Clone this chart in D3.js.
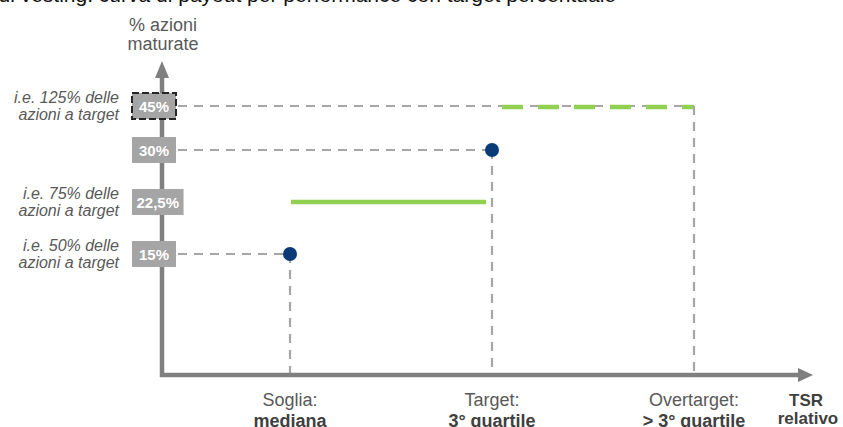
<!DOCTYPE html>
<html>
<head>
<meta charset="utf-8">
<script src="https://cdn.jsdelivr.net/npm/d3@7"></script>
<style>
  html, body { margin: 0; padding: 0; background: #ffffff; }
  svg { display: block; }
</style>
</head>
<body>
<svg id="chart" width="843" height="427"></svg>
<script>
// Performance levels on the relative TSR axis
const categories = ["Soglia:", "Target:", "Overtarget:"];
const categoryDetails = ["mediana", "3° quartile", "> 3° quartile"];

// Vested share levels (% of shares) shown on the vertical axis
const tickValues = [15, 22.5, 30, 45];
const tickLabels = ["15%", "22,5%", "30%", "45%"];
const tickNotes = [
  ["i.e. 50% delle", "azioni a target"],
  ["i.e. 75% delle", "azioni a target"],
  null,
  ["i.e. 125% delle", "azioni a target"]
];

// Payout at each performance level
const pointValues = [15, 30, 45];
// Intermediate payout between threshold and target
const midValue = 22.5;

const svg = d3.select("#chart");
const gray = "#7f7f7f";
const guideGray = "#a6a6a6";
const green = "#92d050";
const navy = "#0a3a78";
const textGray = "#595959";

const originX = 162, originY = 375;

const x = d3.scaleLinear().domain([0, 2]).range([290, 694]);
const y = d3.scaleLinear().domain([0, 15, 30, 45]).range([originY, 254, 150, 106]);

// Title line (runs off the top of the page)
const title = svg.append("text")
  .attr("y", 2)
  .attr("font-family", "Liberation Sans, Arial, sans-serif")
  .attr("font-size", 21)
  .attr("fill", "#111")
  .text("Meccanismo di vesting: curva di payout per performance con target percentuale");
const tl = title.node().getComputedTextLength();
title.attr("x", 616 - tl);

// Axis title
const yTitle = svg.append("text")
  .attr("text-anchor", "middle")
  .attr("font-family", "Liberation Sans, Arial, sans-serif")
  .attr("font-size", 18)
  .attr("fill", textGray);
yTitle.append("tspan").attr("x", 163).attr("y", 31).text("% azioni");
yTitle.append("tspan").attr("x", 163).attr("y", 50).text("maturate");

// Guides from the axis labels to the payout levels
const guides = svg.append("g")
  .attr("stroke", guideGray)
  .attr("stroke-width", 2.2)
  .attr("stroke-dasharray", "9,7")
  .attr("fill", "none");
pointValues.forEach((v, i) => {
  guides.append("line")
    .attr("x1", 178).attr("x2", x(i))
    .attr("y1", y(v)).attr("y2", y(v));
  guides.append("line")
    .attr("x1", x(i)).attr("x2", x(i))
    .attr("y1", y(v)).attr("y2", originY - 2);
});

// Axes with arrow heads
svg.append("line")
  .attr("x1", originX).attr("x2", originX)
  .attr("y1", originY + 2).attr("y2", 76)
  .attr("stroke", gray).attr("stroke-width", 4.5);
svg.append("path")
  .attr("d", `M${originX - 7},78 L${originX},61 L${originX + 7},78 Z`)
  .attr("fill", gray);
svg.append("line")
  .attr("x1", originX - 2).attr("x2", 800)
  .attr("y1", originY).attr("y2", originY)
  .attr("stroke", gray).attr("stroke-width", 4.5);
svg.append("path")
  .attr("d", `M798,${originY - 7} L813,${originY} L798,${originY + 7} Z`)
  .attr("fill", gray);

// Payout lines
svg.append("line")
  .attr("x1", x(0) + 1).attr("x2", x(1) - 6)
  .attr("y1", y(midValue)).attr("y2", y(midValue))
  .attr("stroke", green).attr("stroke-width", 4.5);
svg.append("line")
  .attr("x1", x(1) + 10).attr("x2", x(2) - 1)
  .attr("y1", y(pointValues[2]) + 1).attr("y2", y(pointValues[2]) + 1)
  .attr("stroke", green).attr("stroke-width", 4.5)
  .attr("stroke-dasharray", "21,15");

// Payout points
svg.selectAll("circle.pt")
  .data(pointValues.slice(0, 2))
  .join("circle")
  .attr("class", "pt")
  .attr("cx", (d, i) => x(i))
  .attr("cy", d => y(d))
  .attr("r", 7)
  .attr("fill", navy);

// Value boxes on the vertical axis
const boxes = svg.append("g");
tickValues.forEach((v, i) => {
  const g = boxes.append("g");
  const t = g.append("text")
    .attr("font-family", "Liberation Sans, Arial, sans-serif")
    .attr("font-size", 15)
    .attr("font-weight", "bold")
    .attr("fill", "#ffffff")
    .attr("text-anchor", "middle")
    .text(tickLabels[i]);
  const w = Math.max(44, t.node().getComputedTextLength() + 9);
  const rect = g.insert("rect", "text")
    .attr("x", 132).attr("y", y(v) - 13)
    .attr("width", w).attr("height", 26)
    .attr("fill", "#a5a5a5");
  if (v === 45) {
    rect.attr("stroke", "#262626").attr("stroke-width", 2)
      .attr("stroke-dasharray", "7,3");
  }
  t.attr("x", 132 + w / 2).attr("y", y(v) + 5.5);

  if (tickNotes[i]) {
    const note = svg.append("text")
      .attr("text-anchor", "end")
      .attr("font-family", "Liberation Sans, Arial, sans-serif")
      .attr("font-style", "italic")
      .attr("font-size", 16)
      .attr("fill", textGray);
    note.append("tspan").attr("x", 119).attr("y", y(v) - 3).text(tickNotes[i][0]);
    note.append("tspan").attr("x", 119).attr("y", y(v) + 14).text(tickNotes[i][1]);
  }
});

// Category labels under the horizontal axis
categories.forEach((c, i) => {
  const t = svg.append("text")
    .attr("text-anchor", "middle")
    .attr("font-family", "Liberation Sans, Arial, sans-serif")
    .attr("font-size", 18);
  t.append("tspan").attr("x", x(i)).attr("y", 406).attr("fill", textGray).text(c);
  t.append("tspan").attr("x", x(i)).attr("y", 427).attr("fill", "#404040")
    .attr("font-weight", "bold").text(categoryDetails[i]);
});

// Horizontal axis title
const xTitle = svg.append("text")
  .attr("text-anchor", "middle")
  .attr("font-family", "Liberation Sans, Arial, sans-serif")
  .attr("font-size", 17)
  .attr("font-weight", "bold")
  .attr("fill", "#404040");
xTitle.append("tspan").attr("x", 806).attr("y", 406).text("TSR");
xTitle.append("tspan").attr("x", 808).attr("y", 424).text("relativo");
</script>
</body>
</html>
